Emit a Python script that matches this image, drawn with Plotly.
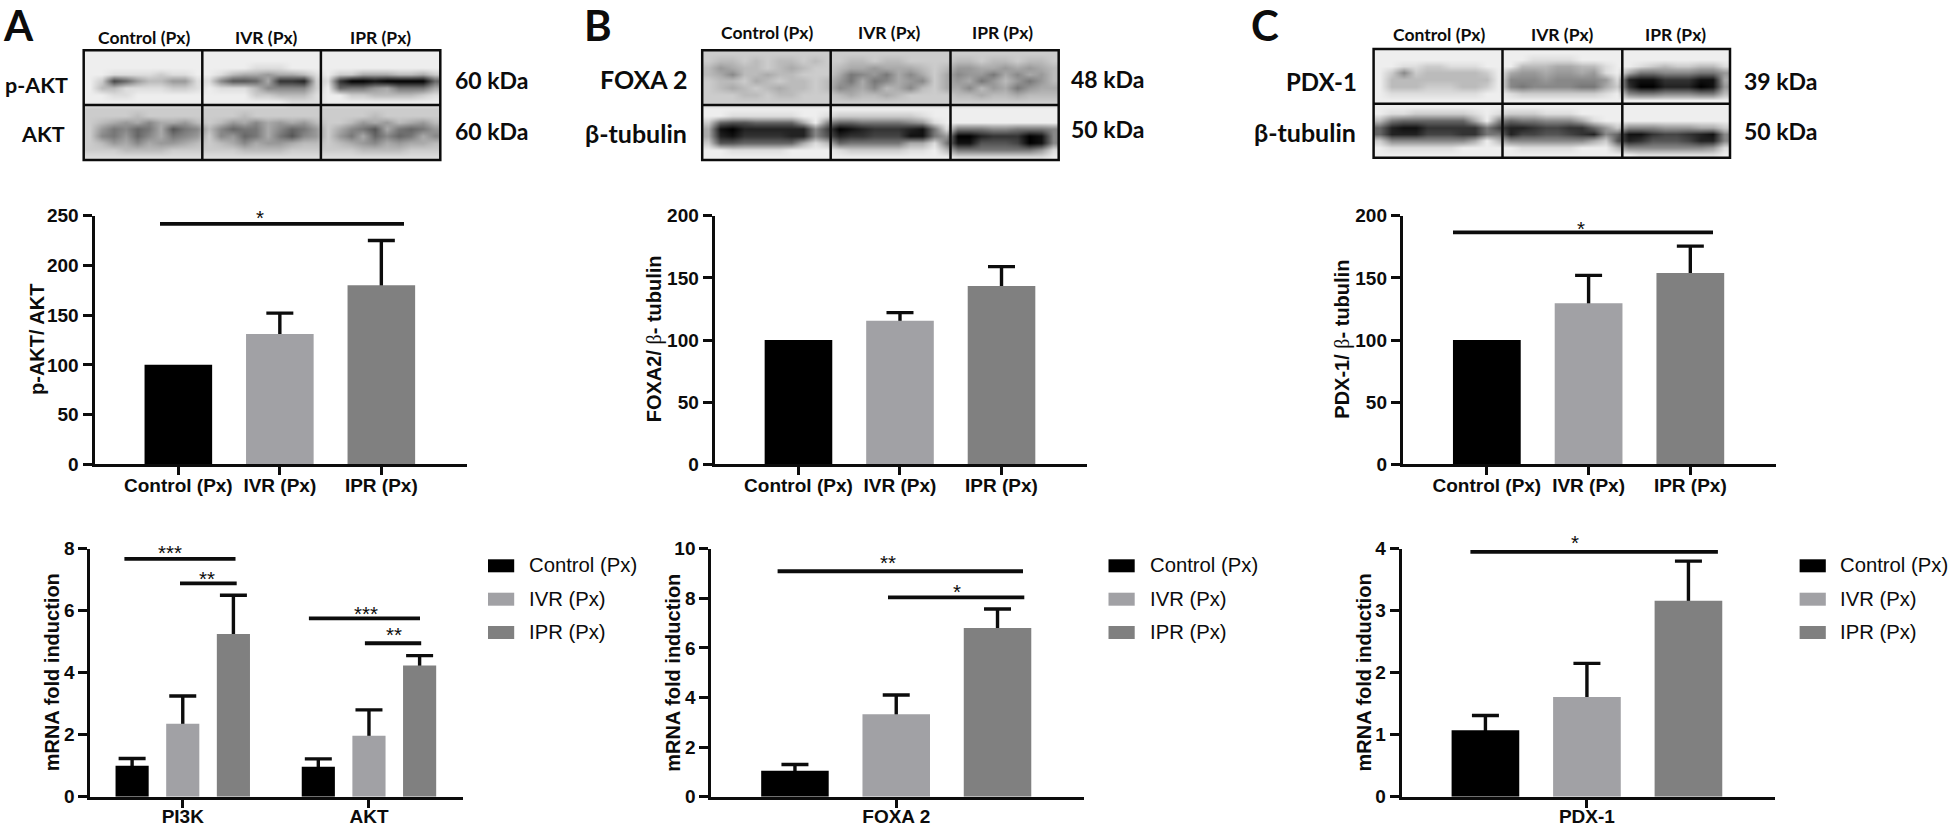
import plotly.graph_objects as go

W, H = 1950, 826
GROUPS = ["Control (Px)", "IVR (Px)", "IPR (Px)"]
COLORS = ["#000000", "#a1a1a5", "#808080"]

# top bar charts
PAKT_VALUES = [100, 131, 180]
PAKT_ERRORS = [0, 21, 45]
FOXA2_PROT_VALUES = [100, 115.5, 143.5]
FOXA2_PROT_ERRORS = [0, 6.5, 15.5]
PDX1_PROT_VALUES = [100, 129.5, 154]
PDX1_PROT_ERRORS = [0, 22.5, 21.5]

# mRNA charts
MRNA_A_GENES = ["PI3K", "AKT"]
MRNA_A_VALUES = [[1.0, 0.97], [2.35, 1.97], [5.25, 4.23]]
MRNA_A_ERRORS = [[0.23, 0.25], [0.9, 0.83], [1.25, 0.32]]
MRNA_B_GENES = ["FOXA 2"]
MRNA_B_VALUES = [[1.05], [3.32], [6.8]]
MRNA_B_ERRORS = [[0.25], [0.78], [0.77]]
MRNA_C_GENES = ["PDX-1"]
MRNA_C_VALUES = [[1.07], [1.61], [3.16]]
MRNA_C_ERRORS = [[0.24], [0.54], [0.64]]

# hand-read grey levels of the blots (0 black ... f white), lanes of 10 columns
BLOT_A = [
    "eeeeeeeeee" "eeeeeeeeee" "eeeeeeeeee",
    "eeeeeeeeee" "eeeeeeeeee" "eeeeeeeeee",
    "eeeeeeeeee" "eeeedddeee" "eeeeeeeeee",
    "eeddddcdde" "edbaa9aabd" "eccaaabbac",
    "ec469bb99d" "d8556a332c" "d300100006",
    "ebbddddccd" "edddb8888c" "e6779a777a",
    "eeddeeeeee" "eeeeccbbbd" "eeccbbbbcd",
    "eeeeeeeeee" "eeeeeeeddd" "eeeeeeeeee",
    "cccccccccc" "cccccccccc" "cccccccccc",
    "ccccbccccc" "cccbcccccc" "ccccbccccc",
    "cba9a8aa9b" "cb9a8a9a9b" "ccb9a9ba9b",
    "c97867a578" "b8677a8679" "ca875a7679",
    "c87968a789" "c8967a7589" "c97a6867a8",
    "cb9a8a99ab" "cba8a99abb" "cba98a9aab",
    "cccbbbbccc" "cccbbbbccc" "cccbbbbccc",
    "dddddddddd" "dddddddddd" "dddddddddd",
]
BLOT_B = [
    "cccccccccc" "cccccccccc" "cccccccccc",
    "cbbcbcbbcb" "ccbbcbbccc" "cbbcbbcbbc",
    "b9abbcbabc" "cbaa9aaabc" "b99aa9a9ab",
    "ba8bbabbcc" "ca7897a8ac" "a8997a8a9b",
    "cbbcabcbbc" "b97a78a98c" "a9a79b979b",
    "cbabcbabbc" "b89a8ba8bc" "aa8b9a79aa",
    "cccbbcbbcc" "cbabbabccc" "cbbabbabbb",
    "cccccccccc" "cccccccccc" "cccccccccc",
    "eeeeeeeeee" "eeeeeeeeee" "eeeeeeeeee",
    "eeddddddee" "dcccccccde" "eeeeeeeeee",
    "c6556666ae" "866777789d" "eeeeeeeeee",
    "a102222228" "4012333217" "d777887778",
    "a213333228" "5233444117" "9002333018",
    "c5566666ad" "b677777aad" "7115554018",
    "eedddddeee" "edcccccdde" "b77777779d",
    "eeeeeeeeee" "eeeeeeeeee" "edddddddde",
]
BLOT_C = [
    "eeeeeeeeee" "eeeeeeeeee" "eeeeeeeeee",
    "eeeeeeeeee" "eeeddddeee" "eeeeeeeeee",
    "eeddccddde" "eebbbaabbd" "eedcbccbbd",
    "ec8cbbbbbc" "ea99a99a9d" "ea77888779",
    "ebbbbbbbbb" "e888988889" "d21133311a",
    "ebbbcccbbc" "e87888877a" "c300222019",
    "edddddddde" "edcccccccd" "e87788877b",
    "eeeeeeeeee" "eeeeeeeeee" "eeeeeeeeee",
    "eeeeeeeeee" "eeeeeeeeee" "eeeeeeeeee",
    "eddcccccde" "dcccdddeee" "eeeeeeeeee",
    "b7666666ae" "8677888ade" "eeeeeeeeee",
    "6211333337" "4223443369" "c888999aac",
    "6222444337" "7244554328" "6113443218",
    "c8888888ae" "b8888888ac" "5235554228",
    "eddddddeee" "eedddddeee" "b88888889d",
    "eeeeeeeeee" "eeeeeeeeee" "eeddddddde",
]

SANS = "Liberation Sans"
BLOTFONT = "Lato"
INK = "#0c0c0c"
fig = go.Figure()
layout = {}
shapes, notes = [], []


def px(x):
    return x / W


def py(y):
    return 1 - y / H


def text(x, y, s, size, anchor="center", family=BLOTFONT, weight=700, angle=0):
    notes.append(dict(x=x, y=y, text=s, xref="paper", yref="paper", xanchor=anchor, yanchor="middle",
                      showarrow=False, textangle=angle, borderpad=0,
                      font=dict(family=family, size=size, color=INK, weight=weight)))


def axes(n, cats, x0, x1, ytop, ybot, xrange, yrange, dtick, label_shift):
    layout[f"xaxis{n}"] = dict(domain=[px(x0), px(x1)], anchor=f"y{n}", type="category", range=xrange,
                               categoryorder="array", categoryarray=cats, ticklabelstandoff=label_shift,
                               showgrid=False, zeroline=False, showline=True, linecolor=INK, linewidth=3,
                               ticks="outside", ticklen=8, tickwidth=3, tickcolor=INK,
                               tickfont=dict(family=SANS, size=19, color=INK, weight=700))
    layout[f"yaxis{n}"] = dict(domain=[py(ybot), py(ytop)], anchor=f"x{n}", range=yrange, dtick=dtick,
                               showgrid=False, zeroline=False, showline=True, linecolor=INK, linewidth=3,
                               ticks="outside", ticklen=9, tickwidth=3, tickcolor=INK,
                               tickfont=dict(family=SANS, size=19, color=INK, weight=700))


def bars(n, cats, vals, errs, colors, names, width, offset=None):
    """Error bars live on a hidden under-layer so that the fill covers their base."""
    keep = [i for i, e in enumerate(errs) if e > 0]
    under = dict(x=[cats[i] for i in keep], y=[vals[i] for i in keep], xaxis=f"x{n}", yaxis=f"y{n}", width=width,
                 showlegend=False, name=names, hoverinfo="skip", marker=dict(color="rgba(0,0,0,0)", line=dict(width=0)),
                 error_y=dict(type="data", symmetric=False, array=[errs[i] for i in keep],
                              arrayminus=[vals[i] * 0.1 for i in keep], thickness=3.4, width=13.5, color=INK))
    fill = dict(x=cats, y=vals, xaxis=f"x{n}", yaxis=f"y{n}", width=width, showlegend=False, name=names,
                marker=dict(color=colors, line=dict(width=0)))
    if offset is not None:
        under["offset"] = offset
        fill["offset"] = offset
    fig.add_trace(go.Bar(**under))
    fig.add_trace(go.Bar(**fill))


def sig(n, x0, x1, yval, stars, sx, sy_px):
    shapes.append(dict(type="line", xref="paper", yref=f"y{n}", x0=px(x0), x1=px(x1), y0=yval, y1=yval,
                       line=dict(color=INK, width=3.8)))
    text(px(sx), py(sy_px + 2), stars, 20.5, family=SANS, weight=400)


def legend(x_sw, x_txt):
    for name, color, ytop, ytxt in zip(GROUPS, COLORS, [559.3, 592.7, 626], [565, 599, 632]):
        shapes.append(dict(type="rect", xref="paper", yref="paper", x0=px(x_sw), x1=px(x_sw + 26.2),
                           y0=py(ytop), y1=py(ytop + 13), fillcolor=color, line=dict(width=0)))
        text(px(x_txt), py(ytxt), name, 20.3, anchor="left", family=SANS, weight=400)


def blot(n, rows, x0, x1, y0, y1, lane1, lane2, split):
    z = [[int(c, 16) for c in r] for r in rows]
    fig.add_trace(go.Heatmap(z=z, xaxis=f"x{n}", yaxis=f"y{n}", zmin=0, zmax=15, zsmooth="best", showscale=False,
                             hoverinfo="skip", colorscale=[[0, "#000000"], [1, "#ffffff"]]))
    layout[f"xaxis{n}"] = dict(domain=[px(x0), px(x1)], anchor=f"y{n}", visible=False, range=[-0.5, 29.5])
    layout[f"yaxis{n}"] = dict(domain=[py(y1), py(y0)], anchor=f"x{n}", visible=False, range=[15.5, -0.5])
    shapes.append(dict(type="rect", xref="paper", yref="paper", x0=px(x0), x1=px(x1), y0=py(y0), y1=py(y1),
                       line=dict(color=INK, width=2.5)))
    for lx in (lane1, lane2):
        shapes.append(dict(type="line", xref="paper", yref="paper", x0=px(lx), x1=px(lx), y0=py(y0), y1=py(y1),
                           line=dict(color=INK, width=2.5)))
    shapes.append(dict(type="line", xref="paper", yref="paper", x0=px(x0), x1=px(x1), y0=py(split), y1=py(split),
                       line=dict(color=INK, width=2.5)))


BETA = "<span style='font-family:Liberation Serif;font-weight:400'>β</span>"
for s, cx, cy, size in [("p-AKT/ AKT", 37, 340, 20), (f"FOXA2/ {BETA}- tubulin", 655.3, 339, 20),
                        (f"PDX-1/ {BETA}- tubulin", 1342.7, 339, 20), ("mRNA fold induction", 51.8, 672.5, 20),
                        ("mRNA fold induction", 672.3, 672.5, 20), ("mRNA fold induction", 1363, 672.5, 20)]:
    text(px(cx), py(cy), s, size, family=SANS, angle=-90)

# --- top bar charts
TOPR = [-0.826, 2.842]
axes(1, GROUPS, 94.5, 466.8, 215.7, 464.3, TOPR, [0, 250], 50, -6)
bars(1, GROUPS, PAKT_VALUES, PAKT_ERRORS, COLORS, "p-AKT/ AKT", 0.666)
sig(1, 160, 404, 241.7, "*", 260, 216)
axes(2, GROUPS, 714.6, 1087, 215.7, 464.3, TOPR, [0, 200], 50, -6)
bars(2, GROUPS, FOXA2_PROT_VALUES, FOXA2_PROT_ERRORS, COLORS, "FOXA2", 0.666)
axes(3, GROUPS, 1402.8, 1776, 215.7, 464.3, TOPR, [0, 200], 50, -6)
bars(3, GROUPS, PDX1_PROT_VALUES, PDX1_PROT_ERRORS, COLORS, "PDX-1", 0.666)
sig(3, 1453, 1713, 186.6, "*", 1580.7, 226)

# --- mRNA charts
axes(4, MRNA_A_GENES, 90.4, 463, 548.7, 796.7, [-0.496, 1.505], [0, 8], 2, -8)
for i, g in enumerate(GROUPS):
    bars(4, MRNA_A_GENES, MRNA_A_VALUES[i], MRNA_A_ERRORS[i], COLORS[i], g, 0.178, -0.089 + (i - 1) * 0.272)
sig(4, 124.4, 235.5, 7.67, "***", 170, 550.7)
sig(4, 180, 236.7, 6.88, "**", 206.5, 576.7)
sig(4, 308.9, 420, 5.75, "***", 366, 611)
sig(4, 364.9, 421.2, 4.95, "**", 393.9, 632)
legend(488, 528)

axes(5, MRNA_B_GENES, 711.3, 1083.6, 548.7, 796.7, [-0.608, 0.616], [0, 10], 2, -8)
for i, g in enumerate(GROUPS):
    bars(5, MRNA_B_GENES, MRNA_B_VALUES[i], MRNA_B_ERRORS[i], COLORS[i], g, 0.222, -0.111 + (i - 1) * 0.333)
sig(5, 777.6, 1023, 9.09, "**", 888, 560.7)
sig(5, 888, 1024.3, 8.04, "*", 956.8, 589)
legend(1108.5, 1148.5)

axes(6, MRNA_C_GENES, 1401.6, 1774.7, 548.7, 796.7, [-0.608, 0.616], [0, 4], 1, -8)
for i, g in enumerate(GROUPS):
    bars(6, MRNA_C_GENES, MRNA_C_VALUES[i], MRNA_C_ERRORS[i], COLORS[i], g, 0.222, -0.111 + (i - 1) * 0.333)
sig(6, 1470.4, 1717.9, 3.95, "*", 1575.3, 540.7)
legend(1799.6, 1839)

# --- blots
blot(7, BLOT_A, 83.7, 440.3, 50.3, 160, 202.3, 320.9, 105)
blot(8, BLOT_B, 702.2, 1058.7, 50.3, 160, 830.7, 950.5, 105)
blot(9, BLOT_C, 1373.6, 1730, 49, 157.7, 1502.5, 1622.3, 103.7)

for s, cx, cy in zip(GROUPS * 3, [143.5, 266.6, 380, 766.5, 889.6, 1002.8, 1438.6, 1562.2, 1675],
                     [37.7] * 3 + [33] * 3 + [34.3] * 3):
    text(px(cx), py(cy), s, 17.5)
for s, rx, cy, size in [("p-AKT", 69, 85, 21.5), ("AKT", 66.3, 134, 21.5), ("FOXA 2", 687.5, 79.3, 25),
                        ("β-tubulin", 688, 132.7, 25), ("PDX-1", 1357.5, 81, 24), ("β-tubulin", 1357, 131.7, 25)]:
    text(px(rx), py(cy), s, size, anchor="right")
for s, lx, cy in [("60 kDa", 454, 80), ("60 kDa", 454, 131), ("48 kDa", 1070, 79), ("50 kDa", 1070, 129),
                  ("39 kDa", 1742.5, 81), ("50 kDa", 1742.5, 131)]:
    text(px(lx), py(cy), s, 23, anchor="left")
for s, lx in [("A", 2), ("B", 583), ("C", 1250)]:
    text(px(lx), py(25), s, 42, anchor="left")

fig.update_layout(width=W, height=H, margin=dict(l=0, r=0, t=0, b=0, autoexpand=False), autosize=False,
                  barmode="overlay", paper_bgcolor="white", plot_bgcolor="white",
                  showlegend=False, shapes=shapes, annotations=notes, **layout)
fig.write_html("out.html", config={"displayModeBar": False},
               post_script="document.body.style.margin='0';document.body.style.overflow='hidden';")
